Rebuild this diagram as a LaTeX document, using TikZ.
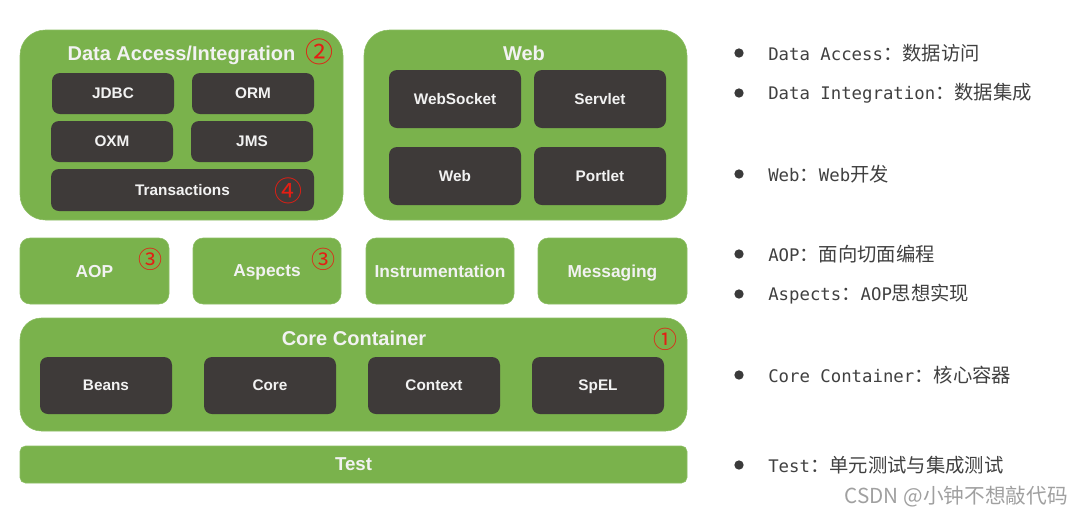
\documentclass[tikz,border=0pt]{standalone}
\usepackage{fontspec}
\setsansfont{Liberation Sans}
\setmonofont{DejaVu Sans Mono}
\newfontfamily\cjk{Noto Sans CJK SC}
\usepackage{xcolor}
\usepackage{tikz}
\usetikzlibrary{positioning, calc}
\definecolor{springgreen}{RGB}{122,178,76}
\definecolor{springedge}{RGB}{140,190,100}
\definecolor{moddark}{RGB}{62,58,57}
\definecolor{labelwhite}{RGB}{242,242,242}
\definecolor{notegray}{RGB}{64,64,64}
\definecolor{markred}{RGB}{228,30,20}
\definecolor{wmgray}{RGB}{160,160,160}
\newcommand{\zh}[1]{{\fontsize{14.5}{16}\selectfont\cjk #1}}
\tikzset{
    sz/.style 2 args={
        minimum width=#1*0.75pt,
        minimum height=#2*0.75pt,
    },
    panel/.style={
        rectangle,
        rounded corners=19pt,
        fill=springgreen,
        draw=springedge,
        inner sep=0pt,
    },
    tile/.style={
        panel,
        rounded corners=7.5pt,
        text=labelwhite,
        text depth=0pt,
        font=\sffamily\bfseries\fontsize{13}{15}\selectfont,
    },
    module/.style={
        rectangle,
        rounded corners=6pt,
        fill=moddark,
        inner sep=0pt,
        text=labelwhite,
        text depth=0pt,
        font=\sffamily\bfseries\fontsize{11.5}{13}\selectfont,
    },
    title/.style={
        text=labelwhite,
        inner sep=0pt,
        text depth=0pt,
        font=\sffamily\bfseries\fontsize{15}{17}\selectfont,
    },
    mark/.style={
        text=markred,
        inner sep=0pt,
        font=\cjk\fontsize{#1}{#1}\selectfont,
    },
    note/.style={
        anchor=west,
        inner sep=0pt,
        text=notegray,
        font=\ttfamily\fontsize{13}{15}\selectfont,
    },
    dot/.style={
        circle,
        fill=notegray!90!black,
        inner sep=0pt,
        minimum size=7pt,
    },
}
\begin{document}
\begin{tikzpicture}[x=0.75pt, y=-0.75pt]
    \useasboundingbox (0,0) rectangle (1083,519);

    % Data Access/Integration
    \node [panel, sz={323}{190}] (da) at (181.5,125) {};
    \node [title] (da-t) at (181.5,53) {Data Access/Integration};
    \node [module, sz={122}{41}] (jdbc) at (113,93.5) {JDBC};
    \node [module, sz={122}{41}] (orm) at (253,93.5) {ORM};
    \node [module, sz={122}{41}] (oxm) at (112,141.5) {OXM};
    \node [module, sz={122}{41}] (jms) at (252,141.5) {JMS};
    \node [module, sz={263}{42}] (tx) at (182.5,190) {Transactions};
    \node [mark=21] (n2) at (319,52) {②};
    \node [mark=21] (n4) at (288,191) {④};

    % Web
    \node [panel, sz={323}{190}] (web) at (525.5,125) {};
    \node [title] (web-t) at (524,53) {Web};
    \node [module, sz={132}{58}] (wsock) at (455,99) {WebSocket};
    \node [module, sz={132}{58}] (servlet) at (600,99) {Servlet};
    \node [module, sz={132}{58}] (webm) at (455,176) {Web};
    \node [module, sz={132}{58}] (portlet) at (600,176) {Portlet};

    % middle row
    \node [tile, sz={149}{66}] (aop) at (94.5,271) {AOP};
    \node [tile, sz={148}{66}] (aspects) at (267,271) {Aspects};
    \node [tile, sz={148}{66}] (instr) at (440,271) {Instrumentation};
    \node [tile, sz={149}{66}] (msg) at (612.5,271) {Messaging};
    \node [mark=18] (n3a) at (150,259) {③};
    \node [mark=18] (n3b) at (323,259) {③};

    % Core Container
    \node [panel, rounded corners=16pt, sz={667}{113}] (core) at (353.5,374.5) {};
    \node [title] (core-t) at (354,338) {Core Container};
    \node [module, sz={132}{57}] (beans) at (106,385.5) {Beans};
    \node [module, sz={132}{57}] (corem) at (270,385.5) {Core};
    \node [module, sz={132}{57}] (ctx) at (434,385.5) {Context};
    \node [module, sz={132}{57}] (spel) at (598,385.5) {SpEL};
    \node [mark=18] (n1) at (665,339) {①};

    % Test
    \node [panel, rounded corners=4pt, sz={667}{37}, text=labelwhite, text depth=0pt,
           font=\sffamily\bfseries\fontsize{14}{16}\selectfont] (test) at (353.5,464.5) {Test};

    % notes
    \foreach \y/\txt [count=\i] in {
        53/{Data Access\zh{：数据访问}},
        93/{Data Integration\zh{：数据集成}},
        174/{Web\zh{：}Web\zh{开发}},
        254/{AOP\zh{：面向切面编程}},
        294/{Aspects\zh{：}AOP\zh{思想实现}},
        375/{Core Container\zh{：核心容器}},
        465/{Test\zh{：单元测试与集成测试}}} {
        \node [dot] (b\i) at (739,\y) {};
        \node [note] (t\i) at (768,\y) {\txt};
    }

    \node [anchor=east, inner sep=0pt, text=wmgray,
           font=\cjk\fontsize{15.5}{17}\selectfont] (wm) at (1068,497) {CSDN @小钟不想敲代码};
\end{tikzpicture}
\end{document}
